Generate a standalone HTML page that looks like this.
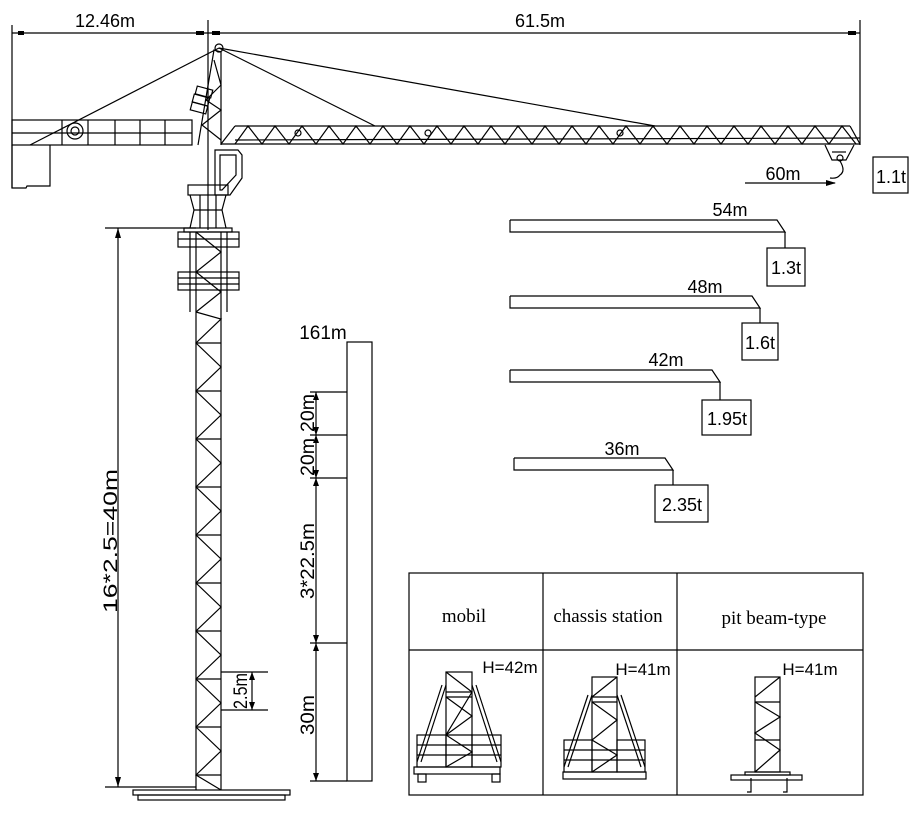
<!DOCTYPE html>
<html><head><meta charset="utf-8"><style>
html,body{margin:0;padding:0;background:#fff}
svg{display:block}
text{font-family:"Liberation Sans",sans-serif;fill:#000}
.s{stroke:#000;stroke-width:1.2;fill:none}
</style></head><body>
<svg width="920" height="817" viewBox="0 0 920 817" xmlns="http://www.w3.org/2000/svg">
<g class="s">
<line x1="12" y1="33" x2="860" y2="33"/>
<line x1="12" y1="25" x2="12" y2="188"/>
<line x1="208" y1="20" x2="208" y2="230"/>
<line x1="860" y1="20" x2="860" y2="145"/>
</g>
<g fill="#000"><rect x="18" y="31" width="6" height="4"/><rect x="196" y="31" width="8" height="4"/><rect x="212" y="31" width="8" height="4"/><rect x="848" y="31" width="8" height="4"/></g>
<text x="105" y="27" font-size="18" text-anchor="middle">12.46m</text>
<text x="540" y="27" font-size="18" text-anchor="middle">61.5m</text>

<g class="s">
<rect x="12" y="120" width="180" height="25"/>
<line x1="12" y1="133" x2="192" y2="133"/>
<line x1="62" y1="120" x2="62" y2="145"/><line x1="88" y1="120" x2="88" y2="145"/><line x1="115" y1="120" x2="115" y2="145"/><line x1="140" y1="120" x2="140" y2="145"/><line x1="165" y1="120" x2="165" y2="145"/>
<polyline points="12,145 12,188 26,188 27,186 50,186 50,145"/>
<circle cx="75" cy="131" r="8"/><circle cx="75" cy="131" r="4"/>
<line x1="30" y1="145" x2="219" y2="48"/>
<line x1="219" y1="48" x2="375" y2="126"/>
<line x1="219" y1="48" x2="655" y2="126"/>
<circle cx="219" cy="48" r="4"/>
<polyline points="198,145 214,50 221,52 221,145"/>
<polyline points="214,60 221,85 206,100 221,110 202,125 221,140"/>
<rect x="196" y="88" width="16" height="8" transform="rotate(15 204 92)"/>
<rect x="193" y="96" width="16" height="8" transform="rotate(15 201 100)"/>
<rect x="191" y="104" width="16" height="8" transform="rotate(15 199 108)"/>
<line x1="235" y1="126" x2="850" y2="126"/>
<line x1="221" y1="144" x2="860" y2="144"/>
<line x1="221" y1="144" x2="235" y2="126"/>
<line x1="850" y1="126" x2="860" y2="144"/>
<line x1="235" y1="140" x2="860" y2="138"/>
<polyline points="235,144 248,126 262,144 275,126 289,144 302,126 316,144 329,126 343,144 356,126 370,144 383,126 397,144 410,126 424,144 437,126 451,144 464,126 478,144 491,126 505,144 518,126 532,144 545,126 559,144 572,126 586,144 599,126 613,144 626,126 640,144 653,126 667,144 680,126 694,144 707,126 721,144 734,126 748,144 761,126 775,144 788,126 802,144 815,126 829,144 842,126 856,144"/>
<circle cx="298" cy="133" r="3"/><circle cx="428" cy="133" r="3"/><circle cx="620" cy="133" r="3"/>
<polyline points="825,145 832,160 846,160 854,145"/>
<line x1="832" y1="152" x2="846" y2="152"/>
<circle cx="840" cy="158" r="3"/>
<path d="M840 161 q6 10 0 14 q-3 4 -10 3"/>
<path d="M215 150 L238 150 L242 155 L242 178 L230 195 L215 195 Z"/>
<path d="M220 155 L236 155 L236 175 L222 190 L220 190 Z"/>
<rect x="188" y="185" width="40" height="10"/>
<polyline points="190,195 194,210 190,228"/><polyline points="226,195 222,210 226,228"/>
<line x1="200" y1="195" x2="200" y2="228"/><line x1="216" y1="195" x2="216" y2="228"/>
<line x1="194" y1="210" x2="222" y2="210"/>
<rect x="184" y="228" width="48" height="4"/>
<rect x="178" y="232" width="61" height="15"/>
<line x1="178" y1="239" x2="239" y2="239"/>
<rect x="178" y="272" width="61" height="18"/>
<line x1="178" y1="278" x2="239" y2="278"/><line x1="178" y1="284" x2="239" y2="284"/>
<line x1="190" y1="232" x2="190" y2="312"/><line x1="227" y1="232" x2="227" y2="312"/>
<line x1="196" y1="232" x2="196" y2="790"/><line x1="221" y1="232" x2="221" y2="790"/>
<polyline points="196,232 221,252 196,272 221,292 196,312"/>
<polyline points="196,312 221,319 196,343 221,367 196,391 221,415 196,439 221,463 196,487 221,511 196,535 221,559 196,583 221,607 196,631 221,655 196,679 221,703 196,727 221,751 196,775 221,790"/>
<line x1="196" y1="343" x2="221" y2="343"/><line x1="196" y1="391" x2="221" y2="391"/><line x1="196" y1="439" x2="221" y2="439"/><line x1="196" y1="487" x2="221" y2="487"/><line x1="196" y1="535" x2="221" y2="535"/><line x1="196" y1="583" x2="221" y2="583"/><line x1="196" y1="631" x2="221" y2="631"/><line x1="196" y1="679" x2="221" y2="679"/><line x1="196" y1="727" x2="221" y2="727"/><line x1="196" y1="775" x2="221" y2="775"/>
<rect x="133" y="790" width="157" height="5"/><rect x="138" y="795" width="147" height="5"/>
<line x1="105" y1="228" x2="196" y2="228"/>
<line x1="118" y1="228" x2="118" y2="787"/>
<line x1="105" y1="787" x2="196" y2="787"/>
<line x1="221" y1="672" x2="268" y2="672"/><line x1="221" y1="710" x2="268" y2="710"/>
<line x1="252" y1="672" x2="252" y2="710"/>
<rect x="347" y="342" width="25" height="439"/>
<line x1="316" y1="392" x2="316" y2="781"/>
<line x1="310" y1="392" x2="347" y2="392"/><line x1="310" y1="435" x2="347" y2="435"/><line x1="310" y1="478" x2="347" y2="478"/><line x1="310" y1="643" x2="347" y2="643"/><line x1="310" y1="781" x2="347" y2="781"/>
<line x1="745" y1="183" x2="835" y2="183"/>
<rect x="873" y="157" width="35" height="36"/>
<polyline points="510,220 777,220 785,232 510,232 510,220"/><line x1="785" y1="232" x2="785" y2="248"/>
<rect x="767" y="248" width="38" height="38"/>
<polyline points="510,296 752,296 760,308 510,308 510,296"/><line x1="760" y1="308" x2="760" y2="323"/>
<rect x="742" y="323" width="36" height="37"/>
<polyline points="510,370 712,370 720,382 510,382 510,370"/><line x1="720" y1="382" x2="720" y2="400"/>
<rect x="702" y="400" width="49" height="35"/>
<polyline points="514,458 665,458 673,470 514,470 514,458"/><line x1="673" y1="470" x2="673" y2="485"/>
<rect x="655" y="485" width="53" height="37"/>
<rect x="409" y="573" width="454" height="222"/>
<line x1="409" y1="650" x2="863" y2="650"/>
<line x1="543" y1="573" x2="543" y2="795"/><line x1="677" y1="573" x2="677" y2="795"/>
<rect x="446" y="672" width="26" height="95"/>
<polyline points="446,672 472,692 446,735 472,752 446,767"/>
<line x1="446" y1="692" x2="472" y2="692"/><line x1="446" y1="697" x2="472" y2="697"/><line x1="446" y1="735" x2="472" y2="735"/>
<polyline points="446,697 472,716 446,735"/>
<rect x="417" y="735" width="29" height="32"/><rect x="472" y="735" width="29" height="32"/>
<line x1="417" y1="745" x2="501" y2="745"/><line x1="417" y1="755" x2="501" y2="755"/>
<line x1="446" y1="685" x2="421" y2="762"/><line x1="442" y1="685" x2="417" y2="762"/>
<line x1="472" y1="685" x2="497" y2="762"/><line x1="476" y1="685" x2="501" y2="762"/>
<rect x="414" y="767" width="86" height="7"/>
<rect x="418" y="774" width="8" height="8"/><rect x="492" y="774" width="8" height="8"/>
<rect x="592" y="677" width="25" height="95"/>
<polyline points="592,697 617,677"/><line x1="592" y1="697" x2="617" y2="697"/><line x1="592" y1="702" x2="617" y2="702"/>
<polyline points="592,702 617,720 592,740 617,755 592,772"/>
<rect x="564" y="740" width="28" height="32"/><rect x="617" y="740" width="28" height="32"/>
<line x1="564" y1="750" x2="645" y2="750"/><line x1="564" y1="760" x2="645" y2="760"/>
<line x1="592" y1="695" x2="568" y2="767"/><line x1="588" y1="695" x2="564" y2="767"/>
<line x1="617" y1="695" x2="641" y2="767"/><line x1="621" y1="695" x2="645" y2="767"/>
<rect x="563" y="772" width="83" height="7"/>
<rect x="755" y="677" width="25" height="95"/>
<line x1="755" y1="697" x2="780" y2="677"/><line x1="755" y1="702" x2="780" y2="702"/><line x1="755" y1="740" x2="780" y2="740"/>
<polyline points="755,702 780,717 755,733 780,750 755,772"/>
<rect x="745" y="772" width="45" height="3"/><rect x="731" y="775" width="71" height="5"/>
<path d="M751 778 v14 h-4 M787 778 v14 h-4"/>
</g>
<g fill="#000">
<polygon points="118,228 115,238 121,238"/><polygon points="118,787 115,777 121,777"/>
<polygon points="252,672 249,680 255,680"/><polygon points="252,710 249,702 255,702"/>
<polygon points="316,392 313,400 319,400"/><polygon points="316,435 313,427 319,427"/><polygon points="316,435 313,443 319,443"/><polygon points="316,478 313,470 319,470"/><polygon points="316,478 313,486 319,486"/><polygon points="316,643 313,635 319,635"/><polygon points="316,643 313,651 319,651"/><polygon points="316,781 313,773 319,773"/>
<polygon points="836,183 826,180 826,186"/>
</g>
<g font-size="19">
<text transform="translate(117,541) rotate(-90)" x="-72" textLength="144" lengthAdjust="spacingAndGlyphs">16*2.5=40m</text>
<text transform="translate(247,691) rotate(-90)" x="-18" textLength="36" lengthAdjust="spacingAndGlyphs">2.5m</text>
<text x="323" y="339" text-anchor="middle">161m</text>
<text transform="translate(314,413) rotate(-90)" x="-19" textLength="38" lengthAdjust="spacingAndGlyphs">20m</text>
<text transform="translate(314,457) rotate(-90)" x="-19" textLength="38" lengthAdjust="spacingAndGlyphs">20m</text>
<text transform="translate(314,561) rotate(-90)" x="-38" textLength="76" lengthAdjust="spacingAndGlyphs">3*22.5m</text>
<text transform="translate(314,715) rotate(-90)" x="-20" textLength="40" lengthAdjust="spacingAndGlyphs">30m</text>
</g>
<g font-size="18">
<text x="783" y="180" text-anchor="middle">60m</text>
<text x="891" y="183" text-anchor="middle">1.1t</text>
<text x="730" y="216" text-anchor="middle">54m</text>
<text x="786" y="274" text-anchor="middle">1.3t</text>
<text x="705" y="293" text-anchor="middle">48m</text>
<text x="760" y="349" text-anchor="middle">1.6t</text>
<text x="666" y="366" text-anchor="middle">42m</text>
<text x="727" y="425" text-anchor="middle">1.95t</text>
<text x="622" y="455" text-anchor="middle">36m</text>
<text x="682" y="511" text-anchor="middle">2.35t</text>
<text x="510" y="673" text-anchor="middle" font-size="17">H=42m</text>
<text x="643" y="675" text-anchor="middle" font-size="17">H=41m</text>
<text x="810" y="675" text-anchor="middle" font-size="17">H=41m</text>
</g>
<g font-size="19">
<text x="464" y="622" text-anchor="middle" style="font-family:'Liberation Serif',serif">mobil</text>
<text x="608" y="622" text-anchor="middle" style="font-family:'Liberation Serif',serif">chassis station</text>
<text x="774" y="624" text-anchor="middle" style="font-family:'Liberation Serif',serif">pit beam-type</text>
</g>
</svg>
</body></html>
